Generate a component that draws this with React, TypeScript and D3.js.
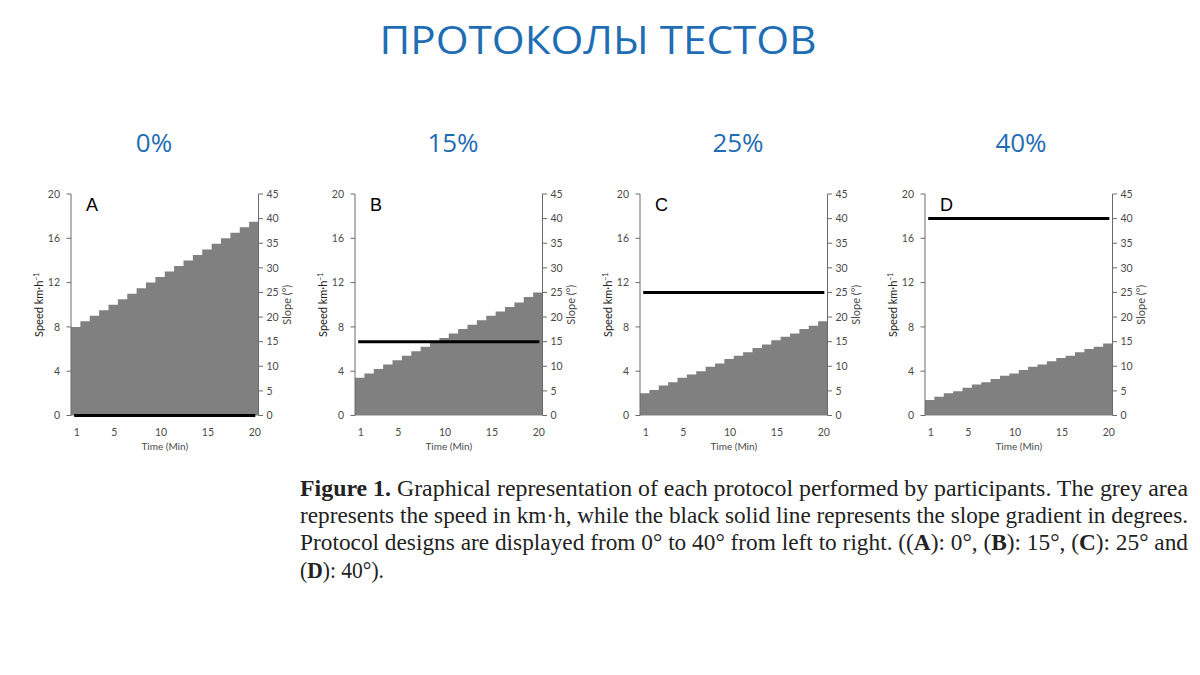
import React from "react";
import * as d3 from "d3";

const minutes = [1, 2, 3, 4, 5, 6, 7, 8, 9, 10, 11, 12, 13, 14, 15, 16, 17, 18, 19, 20];
const speedA = [8.0, 8.5, 9.0, 9.5, 10.0, 10.5, 11.0, 11.5, 12.0, 12.5, 13.0, 13.5, 14.0, 14.5, 15.0, 15.5, 16.0, 16.5, 17.0, 17.5];
const speedB = [3.4, 3.8, 4.2, 4.6, 5.0, 5.4, 5.8, 6.2, 6.6, 7.0, 7.4, 7.8, 8.2, 8.6, 9.0, 9.4, 9.8, 10.2, 10.7, 11.1];
const speedC = [2.0, 2.3, 2.7, 3.0, 3.4, 3.7, 4.0, 4.4, 4.7, 5.1, 5.4, 5.7, 6.1, 6.4, 6.8, 7.1, 7.4, 7.8, 8.1, 8.5];
const speedD = [1.4, 1.7, 2.0, 2.2, 2.5, 2.8, 3.0, 3.3, 3.6, 3.8, 4.1, 4.4, 4.6, 4.9, 5.2, 5.4, 5.7, 6.0, 6.2, 6.5];
const slopes = [0, 15, 25, 40];
const panelLetters = ["A", "B", "C", "D"];
const gradeLabels = ["0%", "15%", "25%", "40%"];
const speedTicks = [0, 4, 8, 12, 16, 20];
const slopeTicks = [0, 5, 10, 15, 20, 25, 30, 35, 40, 45];
const timeTicks = [1, 5, 10, 15, 20];

const titleText = "ПРОТОКОЛЫ ТЕСТОВ";
const speedLabel = "Speed km·h";
const slopeLabel = "Slope (°)";
const timeLabel = "Time (Min)";

const panelLefts = [71, 355, 640, 925];
const panelWidth = 187.5;
const plotTop = 194;
const plotBottom = 415.5;
const axisColor = "#6a6a6a";
const labelColor = "#4a4a4a";
const blue = "#1f6db4";
const uiFont = "Lato, 'Open Sans', sans-serif";

function Panel({ left, speeds, slope, letter }: { left: number; speeds: number[]; slope: number; letter: string }) {
  const x = d3.scaleBand<number>().domain(minutes).range([left, left + panelWidth]).padding(0);
  const y = d3.scaleLinear().domain([0, 20]).range([plotBottom, plotTop]);
  const ySlope = d3.scaleLinear().domain([0, 45]).range([plotBottom, plotTop]);
  const bw = x.bandwidth();
  const pts: [number, number][] = minutes.map((m, i) => [x(m)!, speeds[i]]);
  pts.push([x(minutes[minutes.length - 1])! + bw, speeds[speeds.length - 1]]);
  const area = d3
    .area<[number, number]>()
    .x((d) => d[0])
    .y0(y(0))
    .y1((d) => y(d[1]))
    .curve(d3.curveStepAfter);
  const right = left + panelWidth;
  const lineX1 = x(minutes[0])! + bw / 2 - 1.5;
  const lineX2 = x(minutes[minutes.length - 1])! + bw / 2 + 1.5;
  const midY = (plotTop + plotBottom) / 2;
  return (
    <g>
      <path d={area(pts) || ""} fill="#808080" />
      <line x1={left} x2={left} y1={plotTop} y2={plotBottom} stroke={axisColor} strokeWidth={1} />
      {speedTicks.map((t) => (
        <g key={"l" + t}>
          <line x1={left - 4.5} x2={left} y1={y(t)} y2={y(t)} stroke={axisColor} strokeWidth={1} />
          <text x={left - 11} y={y(t)} dy="0.35em" textAnchor="end" fontSize={10.5} fill={labelColor} fontFamily={uiFont}>
            {t}
          </text>
        </g>
      ))}
      <line x1={right} x2={right} y1={plotTop} y2={plotBottom} stroke={axisColor} strokeWidth={1} />
      {slopeTicks.map((t) => (
        <g key={"r" + t}>
          <line x1={right} x2={right + 4.5} y1={ySlope(t)} y2={ySlope(t)} stroke={axisColor} strokeWidth={1} />
          <text x={right + 8} y={ySlope(t)} dy="0.35em" textAnchor="start" fontSize={10.5} fill={labelColor} fontFamily={uiFont}>
            {t}
          </text>
        </g>
      ))}
      {timeTicks.map((t) => (
        <text key={"x" + t} x={x(t)! + bw / 2 + 1} y={436} textAnchor="middle" fontSize={10.5} fill={labelColor} fontFamily={uiFont}>
          {t}
        </text>
      ))}
      <text x={left + panelWidth / 2} y={450} textAnchor="middle" fontSize={10} fill={labelColor} fontFamily={uiFont}>
        {timeLabel}
      </text>
      <text
        transform={`translate(${left - 28},${midY}) rotate(-90)`}
        textAnchor="middle"
        fontSize={11}
        fill="#222"
        fontFamily={uiFont}
      >
        {speedLabel}
        <tspan dy={-4.5} fontSize={7}>
          −1
        </tspan>
      </text>
      <text
        transform={`translate(${right + 32},${midY}) rotate(-90)`}
        textAnchor="middle"
        fontSize={11}
        fill={labelColor}
        fontFamily={uiFont}
      >
        {slopeLabel}
      </text>
      <line x1={lineX1} x2={lineX2} y1={ySlope(slope)} y2={ySlope(slope)} stroke="#000" strokeWidth={3} />
      <text x={left + 15} y={211} fontSize={18} fill="#000" fontFamily="'Liberation Sans', Arial, sans-serif">
        {letter}
      </text>
    </g>
  );
}

export default function App() {
  const speeds = [speedA, speedB, speedC, speedD];
  const gradeCenters = [154, 453, 738, 1021];
  const serif = "'Liberation Serif', 'Times New Roman', serif";
  return (
    <div style={{ position: "absolute", left: 0, top: 0 }}>
      <svg width={1200} height={675} viewBox="0 0 1200 675" style={{ display: "block", background: "#fff" }}>
        <rect x={0} y={0} width={1200} height={675} fill="#fff" />
        <text x={598} y={54} textAnchor="middle" fontSize={38} fill={blue} fontFamily="'Open Sans', sans-serif" textLength={437} lengthAdjust="spacingAndGlyphs">
          {titleText}
        </text>
        {gradeLabels.map((g, i) => (
          <text key={g} x={gradeCenters[i]} y={152} textAnchor="middle" fontSize={26} fill={blue} fontFamily="'Open Sans', sans-serif">
            {g}
          </text>
        ))}
        {panelLefts.map((l, i) => (
          <Panel key={i} left={l} speeds={speeds[i]} slope={slopes[i]} letter={panelLetters[i]} />
        ))}
        <g fontFamily={serif} fontSize={23} fill="#222" style={{ whiteSpace: "pre" }}>
          <text x={300} y={496} textLength={888} lengthAdjust="spacingAndGlyphs">
            <tspan fontWeight="bold">Figure 1.</tspan>
            <tspan>{"  Graphical representation of each protocol performed by participants.  The grey area"}</tspan>
          </text>
          <text x={300} y={523} textLength={888} lengthAdjust="spacingAndGlyphs">
            represents the speed in km·h, while the black solid line represents the slope gradient in degrees.
          </text>
          <text x={300} y={550} textLength={888} lengthAdjust="spacingAndGlyphs">
            <tspan>{"Protocol designs are displayed from 0° to 40° from left to right.  (("}</tspan>
            <tspan fontWeight="bold">A</tspan>
            <tspan>{"): 0°, ("}</tspan>
            <tspan fontWeight="bold">B</tspan>
            <tspan>{"): 15°, ("}</tspan>
            <tspan fontWeight="bold">C</tspan>
            <tspan>{"): 25° and"}</tspan>
          </text>
          <text x={300} y={578} textLength={84} lengthAdjust="spacingAndGlyphs">
            <tspan>(</tspan>
            <tspan fontWeight="bold">D</tspan>
            <tspan>{"): 40°)."}</tspan>
          </text>
        </g>
      </svg>
    </div>
  );
}
